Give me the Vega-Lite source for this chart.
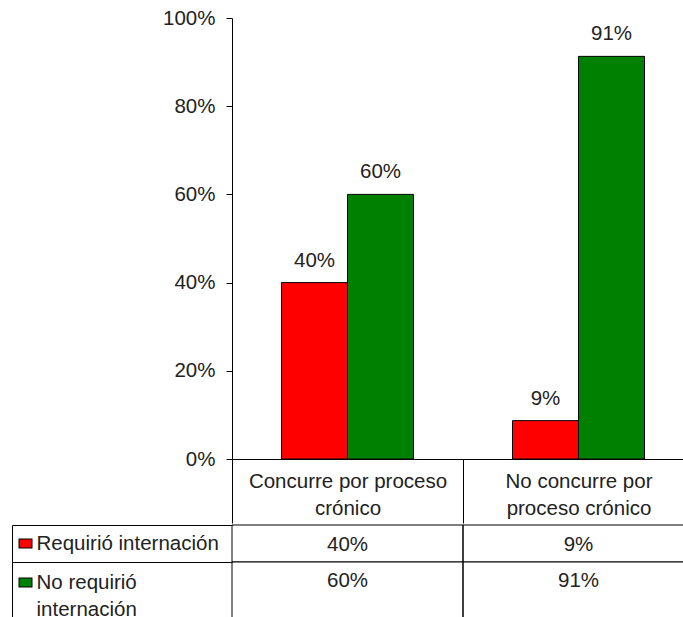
{
  "$schema": "https://vega.github.io/schema/vega-lite/v6.json",
  "background": "white",
  "padding": {"left": 11, "top": 8, "right": 0, "bottom": 0},
  "spacing": 0,
  "config": {"view": {"stroke": null}, "font": "Liberation Sans", "concat": {"spacing": 0}},
  "datasets": {
    "main": [
      {"categoria": "Concurre por proceso crónico", "serie": "Requirió internación", "valor": 0.40},
      {"categoria": "Concurre por proceso crónico", "serie": "No requirió internación", "valor": 0.60},
      {"categoria": "No concurre por proceso crónico", "serie": "Requirió internación", "valor": 0.087},
      {"categoria": "No concurre por proceso crónico", "serie": "No requirió internación", "valor": 0.913}
    ]
  },
  "vconcat": [
    {
      "width": 462,
      "height": 441,
      "data": {"name": "main"},
      "encoding": {
        "x": {
          "field": "categoria", "type": "nominal", "sort": null,
          "scale": {"paddingInner": 0, "paddingOuter": 0},
          "axis": {
            "title": null, "orient": "bottom", "domain": true, "domainColor": "black", "domainWidth": 1,
            "ticks": true, "tickBand": "extent", "tickSize": 64, "tickColor": "black", "tickWidth": 1,
            "labelAngle": 0, "labelBaseline": "top", "labelPadding": -52, "labelLineHeight": 27,
            "labelFont": "Liberation Sans", "labelFontSize": 20.5, "labelColor": "#222", "labelLimit": 400,
            "labelExpr": "datum.value === 'Concurre por proceso crónico' ? ['Concurre por proceso', 'crónico'] : datum.value === 'No concurre por proceso crónico' ? ['No concurre por', 'proceso crónico'] : ''"
          }
        },
        "xOffset": {
          "field": "serie", "type": "nominal",
          "sort": ["Requirió internación", "No requirió internación"],
          "scale": {"paddingInner": 0, "paddingOuter": 0.75}
        },
        "y": {
          "field": "valor", "type": "quantitative",
          "scale": {"domain": [0, 1]},
          "axis": {
            "title": null, "format": ".0%", "values": [0, 0.2, 0.4, 0.6, 0.8, 1], "grid": false,
            "domainColor": "black", "tickColor": "black", "tickSize": 6, "labelPadding": 11,
            "labelFont": "Liberation Sans", "labelFontSize": 20.5, "labelColor": "#222"
          }
        }
      },
      "layer": [
        {
          "mark": {"type": "bar", "stroke": "black", "strokeWidth": 1},
          "encoding": {
            "color": {
              "field": "serie", "type": "nominal",
              "scale": {"domain": ["Requirió internación", "No requirió internación"], "range": ["#ff0000", "#008000"]},
              "legend": null
            }
          }
        },
        {
          "mark": {"type": "text", "dy": -22, "font": "Liberation Sans", "fontSize": 20.5, "color": "#222"},
          "encoding": {"text": {"field": "valor", "type": "quantitative", "format": ".0%"}}
        }
      ]
    },
    {
      "spacing": 0,
      "bounds": "flush",
      "vconcat": [
        {
          "width": 462,
          "height": 37,
          "data": {"name": "main"},
          "transform": [{"filter": "datum.serie === 'Requirió internación'"}],
          "encoding": {
            "x": {"field": "categoria", "type": "nominal", "sort": null, "scale": {"paddingInner": 0, "paddingOuter": 0}, "axis": null}
          },
          "layer": [
            {
              "mark": {"type": "rect", "fill": "white"},
              "encoding": {
                "y": {
                  "field": "serie", "type": "nominal", "scale": {"paddingInner": 0, "paddingOuter": 0},
                  "axis": {
                    "orient": "left", "offset": 220, "title": null,
                    "domain": true, "domainColor": "black", "domainWidth": 1,
                    "ticks": true, "tickBand": "extent", "tickSize": -220, "tickColor": "black", "tickWidth": 1,
                    "labels": false
                  }
                }
              }
            },
            {
              "mark": {"type": "rect", "fillOpacity": 0, "stroke": "black", "strokeWidth": 1},
              "encoding": {
                "y": {
                  "field": "serie", "type": "nominal", "scale": {"paddingInner": 0, "paddingOuter": 0},
                  "axis": {
                    "orient": "left", "offset": 214, "title": null, "domain": false, "zindex": 1,
                    "ticks": true, "tickBand": "center", "tickSize": -14, "tickWidth": 10, "tickColor": "black", "tickCap": "butt",
                    "labels": true, "labelAlign": "left", "labelBaseline": "middle", "labelPadding": -4,
                    "labelFont": "Liberation Sans", "labelFontSize": 20.5, "labelColor": "#222", "labelLimit": 400
                  }
                }
              }
            },
            {
              "mark": {"type": "text", "font": "Liberation Sans", "fontSize": 20.5, "color": "#222", "dy": 1},
              "encoding": {
                "y": {
                  "field": "serie", "type": "nominal", "scale": {"paddingInner": 0, "paddingOuter": 0},
                  "axis": {
                    "orient": "left", "offset": 213, "title": null, "domain": false, "labels": false, "zindex": 2,
                    "ticks": true, "tickBand": "center", "tickSize": -12, "tickWidth": 8, "tickColor": "#ff0000", "tickCap": "butt"
                  }
                },
                "text": {"field": "valor", "type": "quantitative", "format": ".0%"}
              }
            }
          ],
          "resolve": {"scale": {"y": "independent"}, "axis": {"y": "independent"}}
        },
        {
          "width": 462,
          "height": 70,
          "data": {"name": "main"},
          "transform": [{"filter": "datum.serie === 'No requirió internación'"}],
          "encoding": {
            "x": {"field": "categoria", "type": "nominal", "sort": null, "scale": {"paddingInner": 0, "paddingOuter": 0}, "axis": null}
          },
          "layer": [
            {
              "mark": {"type": "rect", "fill": "white"},
              "encoding": {
                "y": {
                  "field": "serie", "type": "nominal", "scale": {"paddingInner": 0, "paddingOuter": 0},
                  "axis": {
                    "orient": "left", "offset": 220, "title": null,
                    "domain": true, "domainColor": "black", "domainWidth": 1,
                    "ticks": true, "tickBand": "extent", "tickSize": -220, "tickColor": "black", "tickWidth": 1,
                    "labels": false
                  }
                }
              }
            },
            {
              "mark": {"type": "rect", "fillOpacity": 0, "stroke": "black", "strokeWidth": 1},
              "encoding": {
                "y": {
                  "field": "serie", "type": "nominal", "scale": {"paddingInner": 0, "paddingOuter": 0},
                  "axis": {
                    "orient": "left", "offset": 214, "title": null, "domain": false, "zindex": 1,
                    "ticks": true, "tickBand": "center", "tickOffset": -15, "tickSize": -14, "tickWidth": 10, "tickColor": "black", "tickCap": "butt",
                    "labels": true, "labelAlign": "left", "labelBaseline": "middle", "labelPadding": -4, "labelLineHeight": 27,
                    "labelFont": "Liberation Sans", "labelFontSize": 20.5, "labelColor": "#222", "labelLimit": 400,
                    "labelExpr": "datum.value === 'No requirió internación' ? ['No requirió', 'internación'] : datum.value"
                  }
                }
              }
            },
            {
              "mark": {"type": "text", "font": "Liberation Sans", "fontSize": 20.5, "color": "#222", "dy": -16},
              "encoding": {
                "y": {
                  "field": "serie", "type": "nominal", "scale": {"paddingInner": 0, "paddingOuter": 0},
                  "axis": {
                    "orient": "left", "offset": 213, "title": null, "domain": false, "labels": false, "zindex": 2,
                    "ticks": true, "tickBand": "center", "tickOffset": -15, "tickSize": -12, "tickWidth": 8, "tickColor": "#008000", "tickCap": "butt"
                  }
                },
                "text": {"field": "valor", "type": "quantitative", "format": ".0%"}
              }
            }
          ],
          "resolve": {"scale": {"y": "independent"}, "axis": {"y": "independent"}}
        }
      ]
    }
  ]
}
